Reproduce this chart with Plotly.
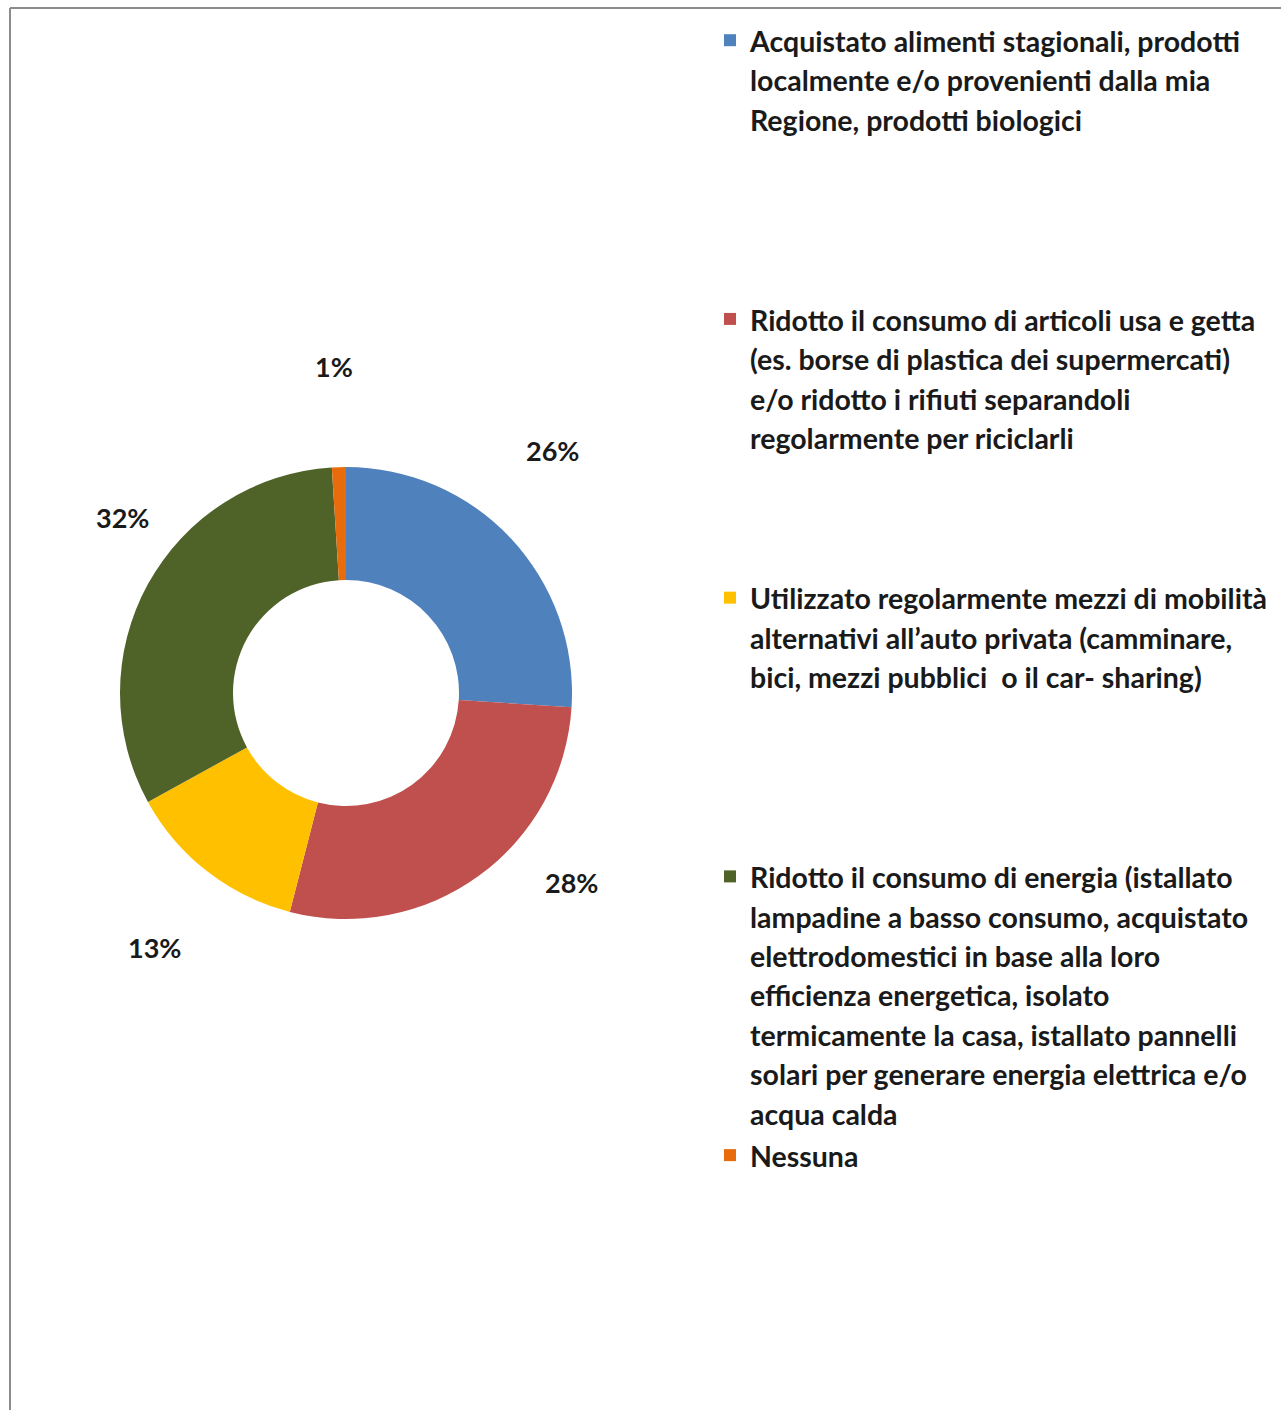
import math
import plotly.graph_objects as go

# ---- data ----
legend_lines = [
    ["Acquistato alimenti stagionali, prodotti",
     "localmente e/o provenienti dalla mia",
     "Regione, prodotti biologici"],
    ["Ridotto il consumo di articoli usa e getta",
     "(es. borse di plastica dei supermercati)",
     "e/o ridotto i rifiuti separandoli",
     "regolarmente per riciclarli"],
    ["Utilizzato regolarmente mezzi di mobilità",
     "alternativi all’auto privata (camminare,",
     "bici, mezzi pubblici  o il car- sharing)"],
    ["Ridotto il consumo di energia (istallato",
     "lampadine a basso consumo, acquistato",
     "elettrodomestici in base alla loro",
     "efficienza energetica, isolato",
     "termicamente la casa, istallato pannelli",
     "solari per generare energia elettrica e/o",
     "acqua calda"],
    ["Nessuna"],
]
values = [26, 28, 13, 32, 1]
colors = ["#4F81BD", "#C0504D", "#FFC000", "#4F6228", "#E86C0C"]

# ---- layout constants ----
W, H = 1281, 1410
cx_px, cy_px, R_px = 346, 693, 226
TEXT_SIZE = 28.5
LEG_SIZE = 30.3
SLOT_LINES = 7
LABEL_R = 1.38
# manual nudges (px) of the percentage labels, as placed in the original
label_nudge_px = [(-21, -29), (42, -63), (0, 8), (50, -25), (-2, -15)]

def legend_text(lines, pad):
    body = lines + ([" "] * max(0, pad - len(lines)) if pad else [])
    return "<span style='font-size:%spx'>%s</span>" % (TEXT_SIZE, "<br>".join(body))

labels = []
for i, ln in enumerate(legend_lines):
    labels.append(legend_text(ln, SLOT_LINES if i < len(legend_lines) - 1 else 0))

fig = go.Figure()
fig.add_trace(go.Pie(
    labels=labels,
    values=values,
    marker=dict(colors=colors, line=dict(width=0)),
    hole=0.5,
    sort=False,
    direction="clockwise",
    rotation=0,
    textinfo="none",
    hoverinfo="skip",
    domain=dict(x=[(cx_px - R_px) / W, (cx_px + R_px) / W],
                y=[(H - cy_px - R_px) / H, (H - cy_px + R_px) / H]),
))

# percentage labels, placed outside each slice at its mid-angle
total = sum(values)
cum = 0.0
annotations = []
for v, (nx, ny) in zip(values, label_nudge_px):
    mid = (cum + v / 2) / total * 2 * math.pi
    cum += v
    r = LABEL_R * R_px
    x_px = cx_px + r * math.sin(mid) + nx
    y_px = cy_px - r * math.cos(mid) + ny
    annotations.append(dict(
        x=x_px / W, y=1 - y_px / H, xref="paper", yref="paper",
        text="%d%%" % round(v / total * 100), showarrow=False,
        font=dict(family="Lato", size=27, color="#1a1a1a", weight="bold"),
        xanchor="center", yanchor="middle",
    ))

fig.update_layout(
    width=W, height=H,
    margin=dict(l=0, r=0, t=0, b=0),
    paper_bgcolor="white",
    plot_bgcolor="white",
    showlegend=True,
    legend=dict(
        x=710 / W, y=1 - 14 / H, xanchor="left", yanchor="top",
        font=dict(family="Lato", size=LEG_SIZE, color="#1a1a1a", weight="bold"),
        valign="top", bgcolor="rgba(0,0,0,0)",
    ),
    annotations=annotations,
    shapes=[
        dict(type="line", xref="paper", yref="paper",
             x0=10 / W, x1=1, y0=1 - 8 / H, y1=1 - 8 / H,
             line=dict(color="#8c8c8c", width=2)),
        dict(type="line", xref="paper", yref="paper",
             x0=10 / W, x1=10 / W, y0=0, y1=1 - 8 / H,
             line=dict(color="#8c8c8c", width=2)),
    ],
)

fig.write_html("out.html")
